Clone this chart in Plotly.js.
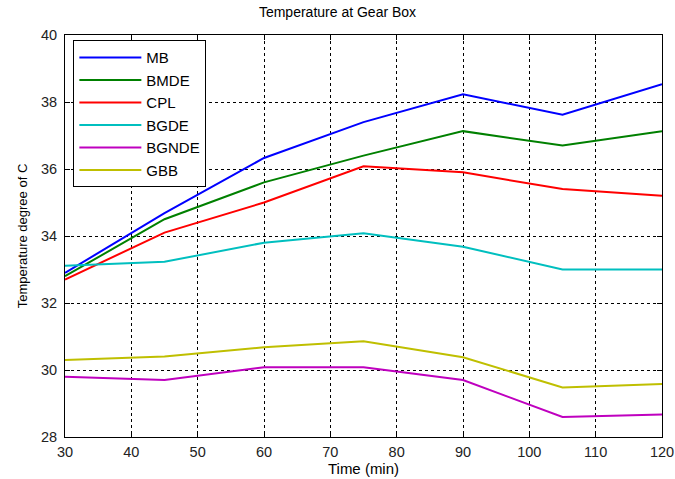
<!DOCTYPE html>
<html>
<head>
<meta charset="utf-8">
<script src="https://cdn.plot.ly/plotly-3.0.1.min.js"></script>
<style>html,body{margin:0;padding:0;background:#fff;}#chart{width:675px;height:479px;}</style>
</head>
<body>
<div id="chart"></div>
<script>
const time = [30, 45, 60, 75, 90, 105, 120];
const MB    = [32.9, 34.68, 36.33, 37.4, 38.23, 37.62, 38.53];
const BMDE  = [32.8, 34.5, 35.6, 36.4, 37.13, 36.7, 37.13];
const CPL   = [32.7, 34.1, 35.0, 36.08, 35.9, 35.4, 35.2];
const BGDE  = [33.11, 33.23, 33.8, 34.08, 33.68, 33.0, 33.0];
const BGNDE = [29.8, 29.7, 30.08, 30.08, 29.7, 28.6, 28.67];
const GBB   = [30.3, 30.4, 30.68, 30.86, 30.38, 29.48, 29.58];
const names = ["MB", "BMDE", "CPL", "BGDE", "BGNDE", "GBB"];
const colors = ["#0000ff", "#008000", "#ff0000", "#00bfbf", "#bf00bf", "#bfbf00"];
const series = [MB, BMDE, CPL, BGDE, BGNDE, GBB];

const traces = series.map((s, i) => ({
  x: time, y: s, name: names[i], type: "scatter", mode: "lines",
  line: {color: colors[i], width: 2}
}));

const fam = "Liberation Sans, Arial, sans-serif";
const axisCommon = {
  showline: true, linecolor: "#000", linewidth: 1, mirror: "ticks",
  ticks: "inside", ticklen: 5, tickcolor: "#000",
  showgrid: true, gridcolor: "#000", gridwidth: 1, griddash: "3px,3px",
  zeroline: false, ticklabeloverflow: "allow",
  tickfont: {family: fam, size: 14.5, color: "#222"}
};

const layout = {
  width: 675, height: 479,
  margin: {l: 65, r: 13, t: 35, b: 42},
  paper_bgcolor: "#fff", plot_bgcolor: "#fff",
  font: {family: fam, size: 12, color: "#000"},
  title: {text: "Temperature at Gear Box", x: 0.5, xanchor: "center", y: 0.985, yanchor: "top",
          font: {family: fam, size: 14, color: "#000"}},
  xaxis: Object.assign({}, axisCommon, {range: [30, 120], dtick: 10, ticklabelstandoff: 2,
          title: {text: "Time (min)", standoff: 0, font: {family: fam, size: 15, color: "#000"}}}),
  yaxis: Object.assign({}, axisCommon, {range: [28, 40], dtick: 2, ticklabelstandoff: 4,
          title: {text: "Temperature degree of C", standoff: 10, font: {family: fam, size: 13, color: "#000"}}}),
  showlegend: true,
  legend: {x: 0.014, y: 0.987, xanchor: "left", yanchor: "top",
           bgcolor: "#fff", bordercolor: "#000", borderwidth: 1,
           font: {family: fam, size: 15, color: "#000"},
           tracegroupgap: 0, itemwidth: 62}
};

Plotly.newPlot("chart", traces, layout, {staticPlot: true, displayModeBar: false});
</script>
</body>
</html>
